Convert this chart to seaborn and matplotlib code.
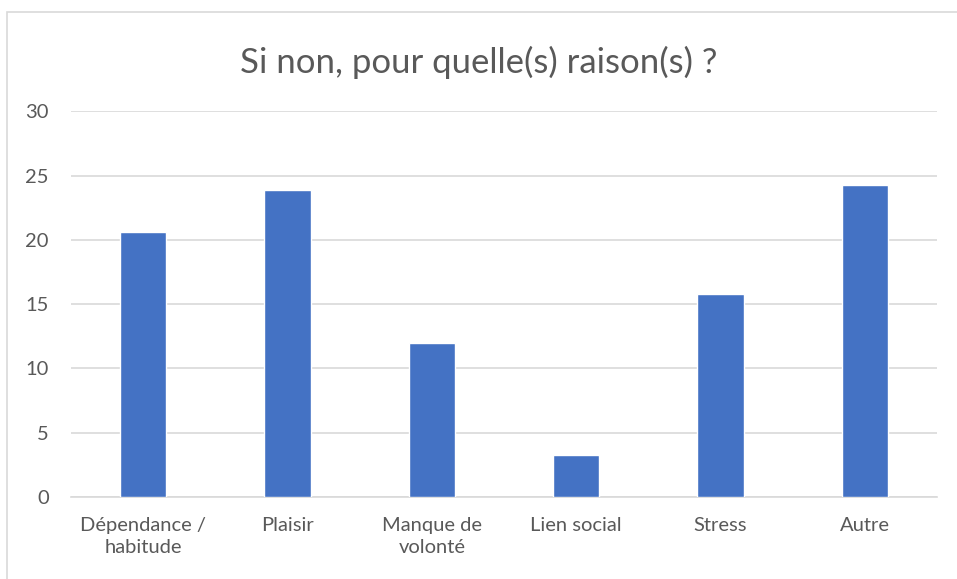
import matplotlib
matplotlib.use("Agg")
import matplotlib.pyplot as plt
import matplotlib.patches as mpatches
import seaborn as sns
import pandas as pd

categories = ["Dépendance /\nhabitude", "Plaisir", "Manque de\nvolonté", "Lien social", "Stress", "Autre"]
values = [20.6, 23.9, 12.0, 3.3, 15.8, 24.3]
y_ticks = [0, 5, 10, 15, 20, 25, 30]
title = "Si non, pour quelle(s) raison(s) ?"

sns.set_theme(style="white")
plt.rcParams["font.family"] = ["Lato", "DejaVu Sans"]

text_color = "#595959"
grid_color = "#d9d9d9"
bar_color = "#4472C4"

df = pd.DataFrame({"categorie": categories, "valeur": values})

W, H = 957, 579
fig = plt.figure(figsize=(W / 100, H / 100), dpi=100)
fig.patch.set_facecolor("white")

# light frame of the chart area
fig.add_artist(mpatches.Rectangle((7 / W, -0.1), 1.2, (H - 12) / H + 0.1,
                                  transform=fig.transFigure, fill=False,
                                  edgecolor=grid_color, linewidth=1.2))

ax = fig.add_axes([71 / W, (H - 497) / H, (937 - 71) / W, (497 - 111.3) / H])
sns.barplot(data=df, x="categorie", y="valeur", color=bar_color, width=0.32,
            saturation=1, ax=ax, zorder=3)

ax.set_ylim(0, 30)
ax.set_yticks(y_ticks)
ax.set_xlim(-0.5, len(categories) - 0.5)
ax.yaxis.grid(True, color=grid_color, linewidth=1.2, zorder=0)
ax.set_axisbelow(True)
for side in ["top", "right", "left"]:
    ax.spines[side].set_visible(False)
ax.spines["bottom"].set_color(grid_color)
ax.spines["bottom"].set_linewidth(1.2)
ax.tick_params(axis="both", length=0, colors=text_color, labelsize=14.5)
ax.tick_params(axis="y", pad=16)
ax.tick_params(axis="x", pad=14.5)
for lbl in ax.get_xticklabels():
    lbl.set_linespacing(1.32)
ax.set_xlabel("")
ax.set_ylabel("")

fig.text(0.5, 1 - 62 / H, title, ha="center", va="center", fontsize=25, color=text_color)

fig.savefig("out.png", dpi=100)
